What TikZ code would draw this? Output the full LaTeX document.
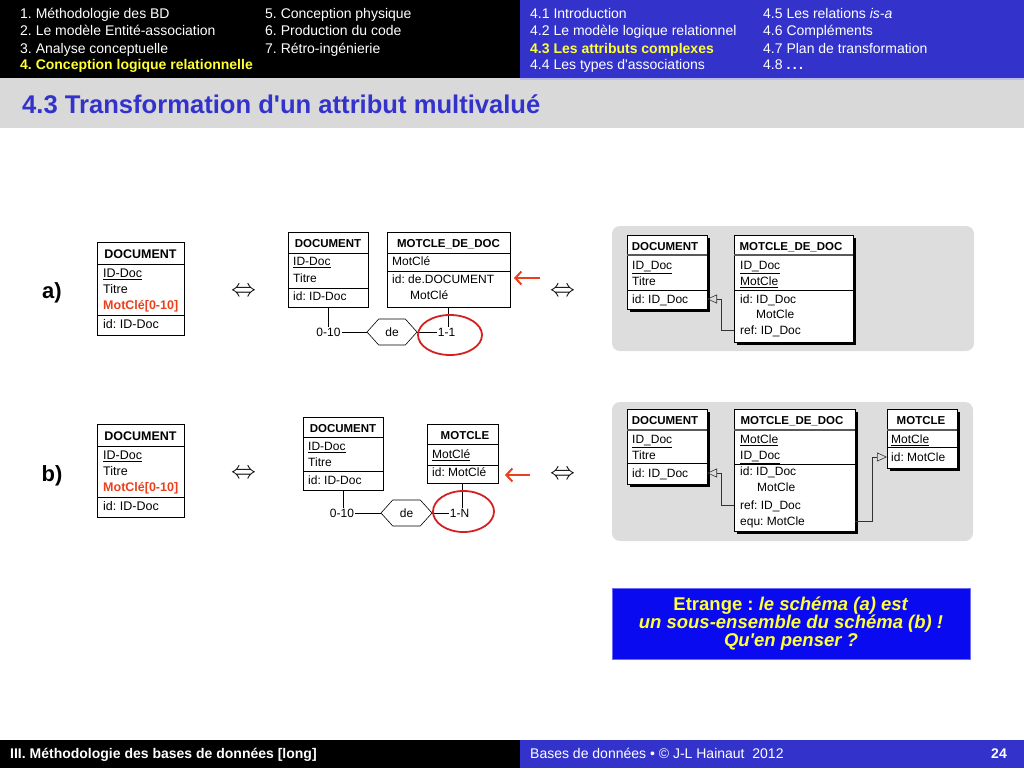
\documentclass[tikz,border=0pt]{standalone}
\usepackage{fontspec}
\setmainfont{Liberation Sans}
\usetikzlibrary{positioning, shapes.geometric, shapes.symbols, arrows.meta, shadows}
\definecolor{hdrblue}{RGB}{51,51,204}
\definecolor{titlegrey}{RGB}{217,217,217}
\definecolor{panelgrey}{RGB}{221,221,221}
\definecolor{hlyellow}{RGB}{255,255,51}
\definecolor{mkred}{RGB}{236,64,28}
\definecolor{ellred}{RGB}{212,32,32}
\definecolor{noteblue}{RGB}{10,10,240}
\definecolor{noteyellow}{RGB}{255,255,60}
\tikzset{
  menu/.style={anchor=west, inner sep=0pt, text=white, font=\fontsize{14}{16}\selectfont, text height=10pt, text depth=0pt},
  menuhl/.style={menu, text=hlyellow, font=\bfseries\fontsize{14}{16}\selectfont},
  lab/.style={inner sep=0pt, font=\bfseries\fontsize{22}{26}\selectfont, text height=15.8pt, text depth=0pt},
  equiv/.style={inner sep=0pt, font=\fontsize{32}{32}\selectfont},
  tbox/.style={draw, line width=0.7pt, inner sep=0pt, outer sep=0pt, anchor=north west},
  shbox/.style={tbox, fill=white, drop shadow={shadow xshift=3pt, shadow yshift=-3pt, fill=black, opacity=1}},
  sep/.style={line width=0.6pt},
  hsep/.style={line width=1.3pt, black!65},
  theadL/.style={inner sep=0pt, font=\bfseries\fontsize{12.5}{15}\selectfont, text height=9pt, text depth=0pt},
  thead/.style={inner sep=0pt, font=\bfseries\fontsize{11.5}{14}\selectfont, text height=8.3pt, text depth=0pt},
  trowL/.style={anchor=west, inner sep=0pt, font=\fontsize{12.5}{15}\selectfont, text height=9pt, text depth=0pt},
  trow/.style={anchor=west, inner sep=0pt, font=\fontsize{12}{14}\selectfont, text height=8.6pt, text depth=0pt},
  card/.style={inner sep=1pt, font=\fontsize{12}{14}\selectfont, text height=8.6pt, text depth=0pt},
  rel/.style={draw, line width=0.6pt, shape=signal, signal to=west and east, signal pointer angle=96,
    inner sep=0pt, font=\fontsize{12}{14}\selectfont},
  ringmark/.style={draw=ellred, line width=1.8pt, ellipse, inner sep=0pt},
  ptr/.style={-{Straight Barb[length=6pt, width=13pt]}, line width=2pt, mkred},
  fk/.style={-{Triangle[open, length=10pt, width=9pt]}, line width=0.6pt, black!80},
}
\begin{document}
\frenchspacing
\begin{tikzpicture}[x=1pt, y=-1pt]
\useasboundingbox (0,0) rectangle (1024,768);
% header
\fill[black] (0,0) rectangle (520,78);
\fill[hdrblue] (520,0) rectangle (1024,78);
\fill[titlegrey] (0,78) rectangle (1024,128);
\draw[hdrblue!35, line width=1.5pt] (520,78.75) -- (1024,78.75);
\node[menu] (m1) at (20,14) {1. Méthodologie des BD};
\node[menu] (m2) at (20,31) {2. Le modèle Entité-association};
\node[menu] (m3) at (20,48) {3. Analyse conceptuelle};
\node[menuhl] (m4) at (20,65) {4. Conception logique relationnelle};
\node[menu] (m5) at (265,14) {5. Conception physique};
\node[menu] (m6) at (265,31) {6. Production du code};
\node[menu] (m7) at (265,48) {7. Rétro-ingénierie};
\node[menu] (s1) at (530,14) {4.1 Introduction};
\node[menu] (s2) at (530,31) {4.2 Le modèle logique relationnel};
\node[menuhl] (s3) at (530,48) {4.3 Les attributs complexes};
\node[menu] (s4) at (530,65) {4.4 Les types d\textquotesingle associations};
\node[menu] (s5) at (763,14) {4.5 Les relations \textit{is-a}};
\node[menu] (s6) at (763,31) {4.6 Compléments};
\node[menu] (s7) at (763,48) {4.7 Plan de transformation};
\node[menu] (s8) at (763,65) {4.8 \textbf{.\,.\,.}};
\node[anchor=west, inner sep=0pt, text=hdrblue, font=\bfseries\fontsize{25.6}{30}\selectfont, text height=18.3pt, text depth=0pt]
  (title) at (22,104) {4.3 Transformation d\textquotesingle un attribut multivalué};

% a) MOTCLE_DE_DOC
\node[lab] (labA) at (52,291) {a)};
\node[tbox, minimum width=87, minimum height=93] (docA0) at (97,242) {};
\node[theadL] (docA0h) at (140.5,254) {DOCUMENT};
\draw[sep] (docA0.west |- 0,264) -- (docA0.east |- 0,264);
\node[trowL] (docA0a) at (103,273) {\underline{ID-Doc}};
\node[trowL] (docA0b) at (103,289) {Titre};
\node[trowL, text=mkred, font=\bfseries\fontsize{12.5}{15}\selectfont] (docA0c) at (103,305) {MotClé[0-10]};
\draw[sep] (docA0.west |- 0,315) -- (docA0.east |- 0,315);
\node[trowL] (docA0d) at (103,324) {id: ID-Doc};
\node[equiv] (eqA1) at (243.5,292) {$\Leftrightarrow$};

\node[tbox, minimum width=80, minimum height=75] (docA1) at (288,232) {};
\node[thead] (docA1h) at (328,243) {DOCUMENT};
\draw[sep] (docA1.west |- 0,253) -- (docA1.east |- 0,253);
\node[trow] (docA1a) at (293,261) {\underline{ID-Doc}};
\node[trow] (docA1b) at (293,278) {Titre};
\draw[sep] (docA1.west |- 0,288) -- (docA1.east |- 0,288);
\node[trow] (docA1c) at (293,296) {id: ID-Doc};
\node[tbox, minimum width=123, minimum height=75] (mdA1) at (387,232) {};
\node[thead] (mdA1h) at (448.5,243) {MOTCLE\_DE\_DOC};
\draw[sep] (mdA1.west |- 0,253) -- (mdA1.east |- 0,253);
\node[trow] (mdA1a) at (392,261) {MotClé};
\draw[sep] (mdA1.west |- 0,271) -- (mdA1.east |- 0,271);
\node[trow] (mdA1b) at (392,279) {id: de.DOCUMENT};
\node[trow] (mdA1c) at (410,295) {MotClé};
\node[card] (cardA1) at (328.5,332) {0-10};
\node[rel, minimum width=50, minimum height=26] (deA) at (392,332) {de};
\node[card] (cardA2) at (446.5,332) {1-1};
\draw[sep] (docA1.south) -- (docA1.south |- cardA1.north);
\draw[sep] (cardA1.east) -- (deA.west);
\draw[sep] (deA.east) -- (cardA2.west);
\draw[sep] (mdA1.south) -- (mdA1.south |- cardA2.north);
\node[ringmark, minimum width=64, minimum height=40] (ellA) at (450,335) {};
\coordinate (ptrA) at (540,278);
\coordinate (ptrAend) at (514,278);
\draw[ptr] (ptrA) -- (ptrAend);
\node[equiv] (eqA2) at (562.5,292) {$\Leftrightarrow$};

\fill[panelgrey, rounded corners=8pt] (612,226) rectangle (974,351);
\node[shbox, minimum width=80, minimum height=74] (docA2) at (627,235) {};
\node[thead] (docA2h) at (665,246) {DOCUMENT};
\draw[hsep] (docA2.west |- 0,255) -- (docA2.east |- 0,255);
\node[trow] (docA2a) at (632,265) {\underline{ID\_Doc}};
\node[trow] (docA2b) at (632,281) {Titre};
\draw[sep] (docA2.west |- 0,290) -- (docA2.east |- 0,290);
\node[trow] (idA2) at (632,299) {id: ID\_Doc};
\node[shbox, minimum width=119, minimum height=107] (mdA2) at (734,235) {};
\node[thead] (mdA2h) at (791,246) {MOTCLE\_DE\_DOC};
\draw[hsep] (mdA2.west |- 0,255) -- (mdA2.east |- 0,255);
\node[trow] (mdA2a) at (740,265) {\underline{ID\_Doc}};
\node[trow] (mdA2b) at (740,281) {\underline{MotCle}};
\draw[sep] (mdA2.west |- 0,290) -- (mdA2.east |- 0,290);
\node[trow] (mdA2c) at (740,299) {id: ID\_Doc};
\node[trow] (mdA2d) at (756,314) {MotCle};
\node[trow] (refA2) at (740,330) {ref: ID\_Doc};
\draw[fk] (mdA2.west |- refA2) -- ++(-13,0) |- (docA2.east |- idA2);

% b) MOTCLE
\node[lab] (labB) at (52,474) {b)};
\node[tbox, minimum width=87, minimum height=93] (docB0) at (97,424) {};
\node[theadL] (docB0h) at (140.5,436) {DOCUMENT};
\draw[sep] (docB0.west |- 0,446) -- (docB0.east |- 0,446);
\node[trowL] (docB0a) at (103,455) {\underline{ID-Doc}};
\node[trowL] (docB0b) at (103,471) {Titre};
\node[trowL, text=mkred, font=\bfseries\fontsize{12.5}{15}\selectfont] (docB0c) at (103,487) {MotClé[0-10]};
\draw[sep] (docB0.west |- 0,497) -- (docB0.east |- 0,497);
\node[trowL] (docB0d) at (103,506) {id: ID-Doc};
\node[equiv] (eqB1) at (243.5,474) {$\Leftrightarrow$};

\node[tbox, minimum width=80, minimum height=73] (docB1) at (303,417) {};
\node[thead] (docB1h) at (343,428) {DOCUMENT};
\draw[sep] (docB1.west |- 0,437) -- (docB1.east |- 0,437);
\node[trow] (docB1a) at (308,446) {\underline{ID-Doc}};
\node[trow] (docB1b) at (308,462) {Titre};
\draw[sep] (docB1.west |- 0,471) -- (docB1.east |- 0,471);
\node[trow] (docB1c) at (308,480) {id: ID-Doc};
\node[tbox, minimum width=71, minimum height=59] (mcB1) at (427,424) {};
\node[thead] (mcB1h) at (465,435) {MOTCLE};
\draw[sep] (mcB1.west |- 0,444) -- (mcB1.east |- 0,444);
\node[trow] (mcB1a) at (432,454) {\underline{MotClé}};
\draw[sep] (mcB1.west |- 0,465) -- (mcB1.east |- 0,465);
\node[trow] (mcB1b) at (432,472) {id: MotClé};
\node[card] (cardB1) at (342,513) {0-10};
\node[rel, minimum width=51, minimum height=26] (deB) at (406.5,513) {de};
\node[card] (cardB2) at (459.5,513) {1-N};
\draw[sep] (docB1.south) -- (docB1.south |- cardB1.north);
\draw[sep] (cardB1.east) -- (deB.west);
\draw[sep] (deB.east) -- (cardB2.west);
\draw[sep] (mcB1.south) -- (mcB1.south |- cardB2.north);
\node[ringmark, minimum width=61, minimum height=41] (ellB) at (463.5,511.5) {};
\coordinate (ptrB) at (530,475);
\coordinate (ptrBend) at (505,475);
\draw[ptr] (ptrB) -- (ptrBend);
\node[equiv] (eqB2) at (562.5,475) {$\Leftrightarrow$};

\fill[panelgrey, rounded corners=8pt] (612,402) rectangle (973,541);
\node[shbox, minimum width=80, minimum height=75] (docB2) at (627,409) {};
\node[thead] (docB2h) at (665,420) {DOCUMENT};
\draw[hsep] (docB2.west |- 0,430) -- (docB2.east |- 0,430);
\node[trow] (docB2a) at (632,439) {\underline{ID\_Doc}};
\node[trow] (docB2b) at (632,455) {Titre};
\draw[sep] (docB2.west |- 0,463) -- (docB2.east |- 0,463);
\node[trow] (idB2) at (632,473) {id: ID\_Doc};
\node[shbox, minimum width=121, minimum height=122] (mdB2) at (734,409) {};
\node[thead] (mdB2h) at (792,420) {MOTCLE\_DE\_DOC};
\draw[hsep] (mdB2.west |- 0,430) -- (mdB2.east |- 0,430);
\node[trow] (mdB2a) at (740,439) {\underline{MotCle}};
\node[trow] (mdB2b) at (740,455) {\underline{ID\_Doc}};
\draw[sep] (mdB2.west |- 0,464) -- (mdB2.east |- 0,464);
\node[trow] (mdB2c) at (740,471) {id: ID\_Doc};
\node[trow] (mdB2d) at (757,487) {MotCle};
\node[trow] (refB2) at (740,505) {ref: ID\_Doc};
\node[trow] (equB2) at (740,521) {equ: MotCle};
\node[shbox, minimum width=70, minimum height=59] (mcB2) at (887,409) {};
\node[thead] (mcB2h) at (921,420) {MOTCLE};
\draw[hsep] (mcB2.west |- 0,430) -- (mcB2.east |- 0,430);
\node[trow] (mcB2a) at (891,439) {\underline{MotCle}};
\draw[sep] (mcB2.west |- 0,447) -- (mcB2.east |- 0,447);
\node[trow] (idB3) at (891,457) {id: MotCle};
\draw[fk] (mdB2.west |- refB2) -- ++(-13,0) |- (docB2.east |- idB2);
\draw[fk] (mdB2.east |- equB2) -- ++(17,0) |- (mcB2.west |- idB3);

% note
\node[draw=noteblue!60!white, line width=1pt, fill=noteblue, text=noteyellow, minimum width=358, minimum height=71,
  align=center, font=\bfseries\fontsize{18.5}{18}\selectfont] (note) at (791,623.5)
  {Etrange : \textit{le schéma (a) est}\\ \textit{un sous-ensemble du schéma (b) !}\\ \textit{Qu\textquotesingle en penser ?}};

% footer
\fill[black] (0,740) rectangle (520,768);
\fill[hdrblue] (520,740) rectangle (1024,768);
\node[menu, font=\bfseries\fontsize{14}{16}\selectfont] (f1) at (10,753) {III. Méthodologie des bases de données [long]};
\node[menu] (f2) at (530,753) {Bases de données \textbullet\ \textcopyright\ J-L Hainaut~~2012};
\node[menu, anchor=east, font=\bfseries\fontsize{14}{16}\selectfont] (f3) at (1007,753) {24};
\end{tikzpicture}
\end{document}
